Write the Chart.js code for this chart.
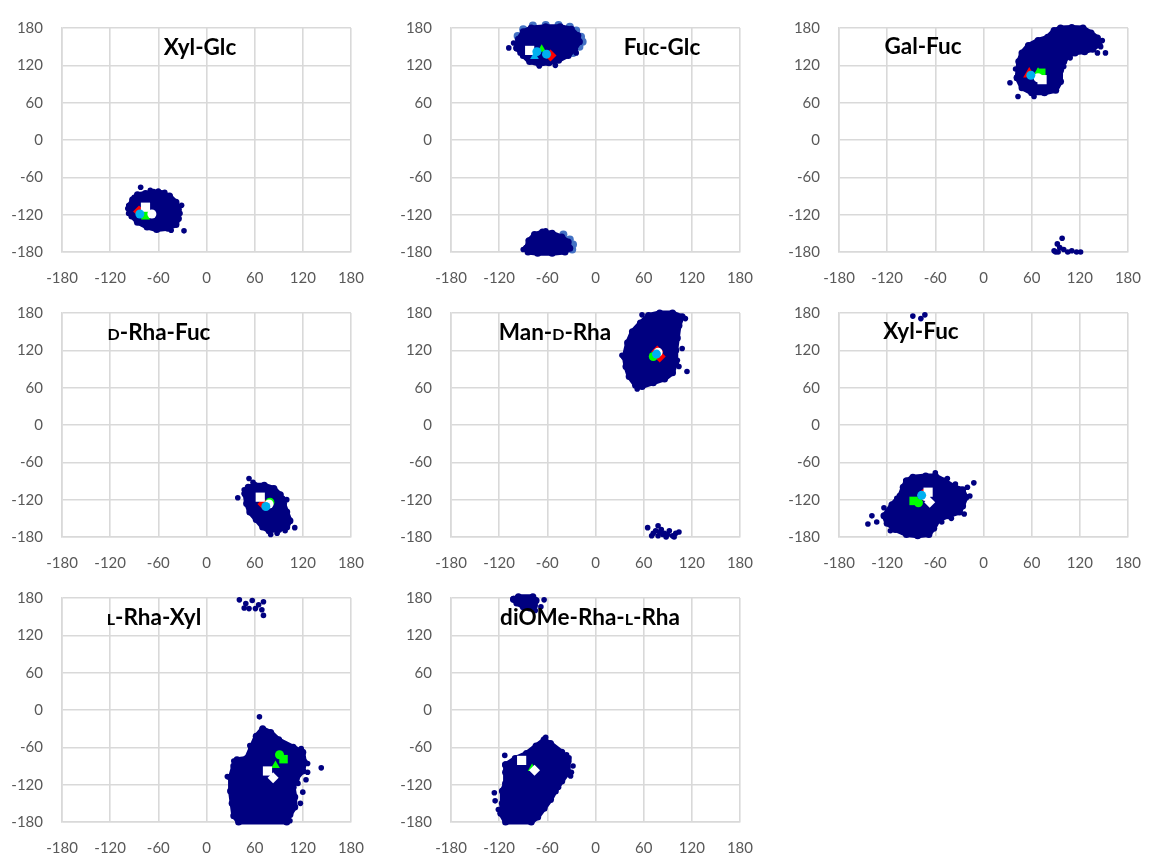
<!DOCTYPE html>
<html>
<head>
<meta charset="utf-8">
<script src="https://cdn.jsdelivr.net/npm/chart.js@4.4.1/dist/chart.umd.min.js"></script>
<style>
  html, body { margin: 0; padding: 0; background: #fff; overflow: hidden; }
  #page { position: relative; width: 1158px; height: 858px; }
  #page canvas { position: absolute; }
</style>
</head>
<body>
<div id="page"></div>
<script>
  // axis ticks (degrees), shared by every panel
  var TICKS = [-180, -120, -60, 0, 60, 120, 180];

  var titles = ["Xyl-Glc", "Fuc-Glc", "Gal-Fuc", "{D}-Rha-Fuc", "Man-{D}-Rha", "Xyl-Fuc", "{L}-Rha-Xyl", "diOMe-Rha-{L}-Rha"];

  // outline of each dense cloud [phi, psi], plus loose points and reference structures
  var xylGlcBlob = [[-96,-106],[-92,-96],[-86,-88],[-76,-86],[-66,-84],[-56,-86],[-46,-90],[-38,-100],[-35,-112],[-35,-126],[-38,-136],[-48,-142],[-62,-144],[-74,-140],[-86,-132],[-93,-122]];
  var xylGlcDots = [[-82,-76],[-31,-105],[-28,-146],[-98,-110],[-60,-82],[-90,-92],[-70,-81],[-52,-84],[-33,-118],[-44,-145],[-97,-118]];
  var xylGlcRefs = [["dmR",-84,-115],["sqG",-76,-121],["ciG",-75,-116],["sqW",-76,-108],["ciW",-68,-119],["ciC",-83,-119]];

  var fucGlcTop = [[-98,148],[-96,162],[-90,174],[-80,180],[-62,182],[-44,182],[-30,178],[-22,168],[-20,158],[-26,146],[-34,136],[-46,128],[-58,124],[-70,122],[-82,126],[-90,136]];
  var fucGlcBottom = [[-86,-174],[-83,-162],[-76,-152],[-66,-148],[-54,-150],[-42,-156],[-34,-164],[-32,-174],[-38,-180],[-54,-182],[-72,-182],[-84,-180]];
  var fucGlcDots = [[-108,148],[-102,156],[-50,120],[-70,119],[-24,140],[-90,-176],[-62,-146],[-94,140]];
  var fucGlcPale = [[-97,167],[-90,178],[-78,184],[-62,185],[-46,185],[-32,182],[-24,176],[-18,166],[-16,158],[-20,150],[-28,140],[-40,-152],[-32,-160],[-28,-168],[-29,-176]];
  var fucGlcRefs = [["dmR",-56,136],["trG",-67,146],["sqW",-82,144],["trC",-76,134],["ciC",-73,142],["ciC",-61,138]];

  var galFucBlob = [[42,100],[44,126],[48,140],[56,152],[68,160],[80,165],[88,176],[96,180],[110,181],[124,180],[134,172],[142,164],[144,154],[136,146],[126,142],[114,140],[106,136],[100,126],[96,112],[96,94],[90,80],[76,76],[60,76],[48,84]];
  var galFucDots = [[33,92],[43,70],[63,70],[152,140],[146,150],[142,140],[108,132],[148,160],[98,-158],[92,-167],[95,-173],[88,-178],[93,-180],[100,-176],[105,-180],[110,-178],[116,-180],[121,-180],[90,-180],[100,118],[40,114]];
  var galFucRefs = [["trR",57,106],["sqG",72,108],["trG",68,109],["sqW",73,97],["ciW",68,100],["ciC",59,104]];

  var dRhaFucBlob = [[48,-110],[52,-100],[60,-97],[72,-97],[84,-102],[92,-112],[96,-126],[100,-140],[104,-154],[100,-164],[90,-168],[78,-170],[70,-164],[62,-152],[54,-140],[50,-126]];
  var dRhaFucDots = [[53,-86],[39,-117],[100,-120],[110,-165],[98,-170],[80,-176],[88,-174],[58,-92],[47,-104],[95,-118]];
  var dRhaFucRefs = [["dmR",71,-127],["ciG",79,-124],["sqW",67,-116],["ciW",78,-127],["ciC",74,-131]];

  var manDRhaBlob = [[36,110],[40,132],[46,150],[56,164],[66,176],[80,180],[96,180],[108,174],[104,160],[102,140],[100,120],[100,100],[96,84],[86,74],[72,68],[58,62],[50,64],[42,78],[38,94]];
  var manDRhaDots = [[58,177],[112,171],[108,123],[114,86],[104,94],[102,104],[65,-165],[75,-170],[78,-162],[82,-168],[86,-174],[92,-170],[96,-178],[100,-174],[104,-172],[78,-178],[70,-178],[88,-180],[98,-180],[72,-174],[84,-176],[90,-176],[80,-172],[33,112],[52,58]];
  var manDRhaRefs = [["dmR",77,118],["dmR",80,110],["ciG",72,110],["ciW",78,117],["ciC",76,114]];

  var xylFucBlob = [[-96,-90],[-88,-84],[-72,-82],[-60,-82],[-48,-90],[-36,-100],[-26,-104],[-22,-116],[-26,-130],[-30,-140],[-44,-146],[-56,-152],[-62,-166],[-68,-176],[-82,-178],[-96,-176],[-110,-168],[-120,-158],[-124,-146],[-114,-128],[-104,-114],[-100,-100]];
  var xylFucDots = [[-88,175],[-78,171],[-73,177],[-144,-159],[-139,-146],[-133,-156],[-124,-133],[-60,-77],[-12,-93],[-20,-100],[-17,-114],[-24,-143],[-30,-134],[-45,-86],[-116,-170],[-35,-95],[-28,-122],[-40,-150],[-52,-156],[-108,-118]];
  var xylFucRefs = [["dmR",-75,-112],["sqG",-87,-122],["ciG",-81,-125],["sqW",-69,-108],["dmW",-67,-124],["ciW",-72,-115],["ciC",-77,-113]];

  var lRhaXylBlob = [[30,-108],[34,-90],[38,-80],[50,-78],[56,-60],[62,-42],[70,-30],[80,-36],[90,-48],[108,-60],[120,-68],[122,-84],[120,-98],[112,-110],[108,-124],[110,-140],[110,-156],[104,-168],[100,-180],[40,-180],[34,-170],[32,-150],[30,-130]];
  var lRhaXylDots = [[41,177],[49,171],[53,163],[61,163],[65,169],[71,174],[71,152],[57,176],[47,164],[69,161],[66,-11],[54,-57],[143,-93],[126,-86],[126,-100],[114,-118],[117,-150],[26,-107],[104,-178],[118,-62],[124,-112],[120,-132],[34,-82]];
  var lRhaXylRefs = [["sqG",96,-79],["trG",86,-89],["ciG",91,-72],["sqW",76,-98],["dmW",83,-109]];

  var diOMeBlob = [[-112,-88],[-100,-78],[-86,-70],[-74,-58],[-64,-48],[-56,-54],[-42,-68],[-34,-82],[-34,-100],[-42,-114],[-50,-130],[-56,-144],[-64,-158],[-72,-172],[-80,-180],[-112,-180],[-118,-166],[-116,-150],[-116,-130],[-112,-118],[-112,-100]];
  var diOMeTop = [[-102,178],[-98,172],[-90,166],[-82,164],[-76,168],[-74,176],[-78,182],[-96,182]];
  var diOMeDots = [[-113,-73],[-125,-146],[-126,-133],[-121,-160],[-33,-77],[-28,-90],[-30,-100],[-62,-44],[-64,177],[-68,166],[-75,160],[-36,-72],[-31,-106],[-46,-124]];
  var diOMeRefs = [["trG",-79,-94],["sqW",-92,-81],["dmW",-76,-97]];

  var NAVY = "#000080";
  var PALE = "#4472c4";
  var GRID = "#d9d9d9";
  var TICK_COLOR = "#595959";

  // marker look of each reference kind, listed bottom to top
  var REF_STYLE = {
    dmR: { style: "rectRot", color: "#ff0000", r: 6 },
    trR: { style: "triangle", color: "#ff0000", r: 7 },
    sqG: { style: "rect", color: "#00ff00", r: 6 },
    trG: { style: "triangle", color: "#00ff00", r: 5 },
    ciG: { style: "circle", color: "#00ff00", r: 4.5 },
    sqW: { style: "rect", color: "#ffffff", r: 6.5 },
    dmW: { style: "rectRot", color: "#ffffff", r: 5.5 },
    ciW: { style: "circle", color: "#ffffff", r: 4.5 },
    trC: { style: "triangle", color: "#00b0f0", r: 5 },
    ciC: { style: "circle", color: "#00b0f0", r: 4.5 }
  };

  var panels = [
    { blobs: [xylGlcBlob], dots: xylGlcDots, refs: xylGlcRefs, left: 0, top: 0, tx: 200, ty: 55 },
    { blobs: [fucGlcTop, fucGlcBottom], pale: fucGlcPale, dots: fucGlcDots, refs: fucGlcRefs, left: 389, top: 0, tx: 273, ty: 55 },
    { blobs: [galFucBlob], dots: galFucDots, refs: galFucRefs, left: 777, top: 0, tx: 146, ty: 54 },
    { blobs: [dRhaFucBlob], dots: dRhaFucDots, refs: dRhaFucRefs, left: 0, top: 285, tx: 159, ty: 55 },
    { blobs: [manDRhaBlob], dots: manDRhaDots, refs: manDRhaRefs, left: 389, top: 285, tx: 166, ty: 55 },
    { blobs: [xylFucBlob], dots: xylFucDots, refs: xylFucRefs, left: 777, top: 285, tx: 144, ty: 54 },
    { blobs: [lRhaXylBlob], dots: lRhaXylDots, refs: lRhaXylRefs, left: 0, top: 570, tx: 154, ty: 55 },
    { blobs: [diOMeBlob, diOMeTop], dots: diOMeDots, refs: diOMeRefs, left: 389, top: 570, tx: 201, ty: 55 }
  ];

  var panelTitle = {
    id: "panelTitle",
    afterDatasetsDraw: function (chart, args, opts) {
      var ctx = chart.ctx;
      var parts = opts.text.split(/(\{[^}]*\})/).filter(Boolean).map(function (p) {
        var small = p.charAt(0) === "{";
        return { t: small ? p.slice(1, -1) : p, size: small ? 16 : 22.5 };
      });
      ctx.save();
      var total = 0;
      parts.forEach(function (p) {
        ctx.font = "bold " + p.size + "px Lato";
        p.w = ctx.measureText(p.t).width;
        total += p.w;
      });
      var x = opts.x - total / 2;
      ctx.fillStyle = "#000000";
      ctx.textBaseline = "alphabetic";
      ctx.textAlign = "left";
      parts.forEach(function (p) {
        ctx.font = "bold " + p.size + "px Lato";
        ctx.fillText(p.t, x, opts.y);
        x += p.w;
      });
      ctx.restore();
    }
  };

  function pts(list) {
    return list.map(function (p) { return { x: p[0], y: p[1] }; });
  }

  function axis(isX) {
    return {
      type: "linear",
      min: -180,
      max: 180,
      afterBuildTicks: function (scale) {
        scale.ticks = TICKS.map(function (v) { return { value: v }; });
      },
      afterFit: function (scale) {
        if (isX) scale.height = 33; else scale.width = 62;
      },
      grid: { color: GRID, lineWidth: 1.6, drawTicks: false },
      border: { display: true, color: GRID, width: 1.6 },
      ticks: { color: TICK_COLOR, padding: isX ? 17 : 19, font: { family: "Lato", size: 15 } }
    };
  }

  function buildDatasets(p) {
    var sets = [];
    var kinds = Object.keys(REF_STYLE);
    kinds.forEach(function (k, i) {
      var mine = p.refs.filter(function (r) { return r[0] === k; });
      if (!mine.length) return;
      var st = REF_STYLE[k];
      sets.push({
        label: k,
        data: mine.map(function (r) { return { x: r[1], y: r[2] }; }),
        pointStyle: st.style,
        pointRadius: st.r,
        pointBackgroundColor: st.color,
        pointBorderWidth: 0,
        clip: false,
        order: 30 - i
      });
    });
    sets.push({
      label: "loose",
      data: pts(p.dots),
      pointRadius: 2.8,
      pointBackgroundColor: NAVY,
      pointBorderWidth: 0,
      clip: false,
      order: 90
    });
    p.blobs.forEach(function (b) {
      sets.push({
        label: "cloud",
        data: pts(b.concat([b[0]])),
        showLine: true,
        fill: "shape",
        backgroundColor: NAVY,
        borderColor: NAVY,
        borderWidth: 5,
        borderJoinStyle: "round",
        pointRadius: 3.5,
        pointBackgroundColor: NAVY,
        pointBorderWidth: 0,
        clip: false,
        order: 100
      });
    });
    if (p.pale) {
      sets.push({
        label: "pale",
        data: pts(p.pale),
        pointRadius: 4,
        pointBackgroundColor: PALE,
        pointBorderWidth: 0,
        clip: false,
        order: 120
      });
    }
    return sets;
  }

  var page = document.getElementById("page");
  panels.forEach(function (p, i) {
    var canvas = document.createElement("canvas");
    canvas.width = 381;
    canvas.height = 285;
    canvas.style.left = p.left + "px";
    canvas.style.top = p.top + "px";
    page.appendChild(canvas);

    new Chart(canvas, {
      type: "scatter",
      data: { datasets: buildDatasets(p) },
      options: {
        responsive: false,
        animation: false,
        layout: { padding: { top: 21, right: 18, left: 0, bottom: 0 } },
        plugins: {
          legend: { display: false },
          tooltip: { enabled: false },
          panelTitle: { text: titles[i], x: p.tx, y: p.ty }
        },
        scales: { x: axis(true), y: axis(false) }
      },
      plugins: [panelTitle]
    });
  });
</script>
</body>
</html>
